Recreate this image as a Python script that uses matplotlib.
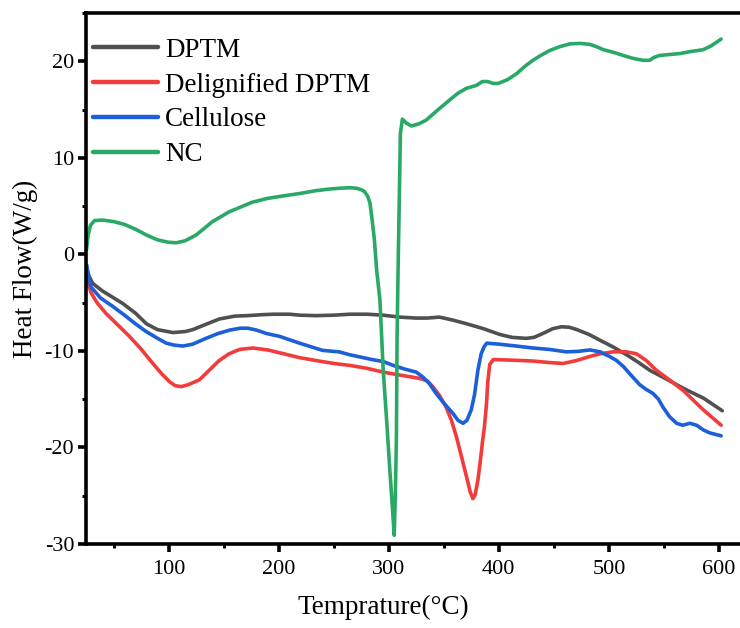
import matplotlib
matplotlib.use("Agg")
import matplotlib.pyplot as plt
from matplotlib.ticker import MultipleLocator

plt.rcParams['font.family'] = ['Liberation Serif', 'DejaVu Serif']
plt.rcParams['axes.unicode_minus'] = False

# DPTM
dptm_t = [25.5, 28, 31, 40, 50, 58.5, 70, 80, 90, 104, 115, 122, 135, 146, 160, 171, 185, 195,
          210, 219, 234, 250, 265, 280, 295, 310, 325, 335, 346, 358, 371, 386, 401, 412, 425,
          432, 440, 449, 457, 464, 471, 482, 492, 504, 516, 527, 537, 552, 568, 586, 603]
dptm_v = [-1.5, -2.3, -3.0, -3.8, -4.5, -5.1, -6.1, -7.2, -7.8, -8.1, -8.0, -7.8, -7.2, -6.7,
          -6.4, -6.35, -6.25, -6.2, -6.2, -6.3, -6.35, -6.3, -6.2, -6.2, -6.3, -6.5, -6.6, -6.6,
          -6.5, -6.8, -7.2, -7.7, -8.3, -8.6, -8.7, -8.6, -8.2, -7.7, -7.5, -7.55, -7.8, -8.3,
          -8.9, -9.6, -10.4, -11.2, -12.0, -12.9, -13.9, -14.9, -16.2]

# Delignified DPTM
del_t = [25.7, 27.5, 29.7, 35, 43, 52, 64.5, 75, 85.7, 94, 101, 106, 111.5, 118, 128, 137, 146,
         155, 164.5, 176.6, 190, 201, 219, 234, 250, 264.5, 280, 295, 310, 328, 335, 340, 346,
         352, 357, 361.5, 366, 370.6, 374, 376.5, 378.5, 381, 383, 385, 387, 388.8, 390, 391.8,
         395, 410, 431, 445, 458.5, 470.6, 482, 492, 504, 516, 525, 534, 543, 555, 567.5, 585.7,
         602]
del_v = [-1.8, -3.2, -4.0, -5.0, -6.1, -7.1, -8.5, -9.8, -11.3, -12.4, -13.2, -13.6, -13.7,
         -13.5, -13.0, -12.0, -11.0, -10.3, -9.85, -9.7, -9.9, -10.2, -10.7, -11.0, -11.3, -11.5,
         -11.8, -12.2, -12.5, -12.85, -13.1, -13.7, -14.6, -15.8, -17.2, -18.9, -20.9, -23.0,
         -24.6, -25.3, -24.9, -23.4, -21.6, -19.6, -17.8, -15.5, -13.2, -11.4, -10.9, -10.95,
         -11.05, -11.2, -11.3, -11.0, -10.6, -10.3, -10.1, -10.1, -10.3, -11.0, -12.0, -13.0,
         -14.1, -16.1, -17.7]

# Cellulose
cel_t = [25.7, 27.5, 29.7, 38, 49.4, 60, 70, 79.7, 90, 97.9, 105, 113, 122, 134, 145, 155.5,
         165, 172, 180, 189, 201, 219, 240, 255, 264.5, 285, 295, 304, 315, 325, 331, 337, 343,
         350, 358.5, 363, 367.5, 371, 375, 378, 381, 384, 386.5, 389, 400, 416, 431, 446, 461.5,
         472, 482.7, 492, 501, 507, 513, 520, 528, 534, 540, 545, 549, 555, 561.5, 567, 573.6,
         579.7, 586, 591.8, 602]
cel_v = [-1.1, -2.5, -3.4, -4.5, -5.4, -6.3, -7.2, -8.0, -8.7, -9.2, -9.4, -9.5, -9.3, -8.7,
         -8.2, -7.85, -7.65, -7.65, -7.85, -8.2, -8.5, -9.2, -9.95, -10.1, -10.4, -10.9, -11.1,
         -11.5, -11.9, -12.2, -12.7, -13.4, -14.4, -15.4, -16.5, -17.2, -17.5, -17.2, -16.1,
         -14.5, -12.0, -10.3, -9.6, -9.2, -9.3, -9.5, -9.7, -9.85, -10.1, -10.05, -9.9, -10.1,
         -10.6, -11.0, -11.6, -12.5, -13.5, -14.0, -14.4, -15.0, -15.8, -16.8, -17.5, -17.7,
         -17.5, -17.7, -18.2, -18.5, -18.8]

# NC
nc_t = [25.5, 27, 29, 32.7, 40, 50, 60, 70, 80, 90, 100, 107, 115, 125, 140, 155, 176, 190, 204,
        219, 234, 245, 255, 265, 270.6, 275, 278, 281, 283, 285, 287, 289, 292, 295, 298, 301,
        303.5, 305, 306, 307, 307.6, 308.5, 309.5, 310.6, 312.4, 316, 320.6, 327, 334, 345,
        355.5, 363, 370.6, 379.7, 385, 390, 395, 399.4, 408, 416, 424, 431, 438, 446, 455, 464.5,
        474, 482.7, 489, 495, 505, 513, 522, 531, 537, 541, 546, 555, 564.5, 573.6, 580, 585.7,
        593, 602]
nc_v = [0.5, 2.0, 3.0, 3.5, 3.55, 3.4, 3.1, 2.6, 2.0, 1.5, 1.25, 1.2, 1.4, 2.0, 3.4, 4.4, 5.4,
        5.8, 6.05, 6.3, 6.6, 6.75, 6.85, 6.9, 6.85, 6.7, 6.5, 6.0, 5.3, 3.5, 1.5, -1.6, -4.7,
        -12, -17, -22.3, -26.5, -29.1, -25, -18.9, -8.5, -1.6, 5, 12.5, 14.0, 13.6, 13.3, 13.5,
        13.9, 15.0, 16.0, 16.7, 17.2, 17.5, 17.9, 17.9, 17.7, 17.7, 18.1, 18.7, 19.5, 20.1, 20.6,
        21.1, 21.5, 21.8, 21.85, 21.75, 21.5, 21.2, 20.9, 20.6, 20.3, 20.1, 20.1, 20.4, 20.6,
        20.7, 20.8, 21.0, 21.1, 21.2, 21.6, 22.3]

series = [
    ("DPTM", dptm_t, dptm_v, "#505050"),
    ("Delignified DPTM", del_t, del_v, "#f23c3c"),
    ("Cellulose", cel_t, cel_v, "#1b5fd9"),
    ("NC", nc_t, nc_v, "#2aa866"),
]

fig = plt.figure(figsize=(7.4, 6.28), dpi=100)
ax = fig.add_axes([0.1162, 0.1338, 0.9, 0.8455])

for name, t, v, c in series:
    ax.plot(t, v, color=c, lw=2.6, label=name, solid_joinstyle='round', solid_capstyle='round')

ax.set_xlim(25, 630)
ax.set_ylim(-30, 25)
ax.xaxis.set_minor_locator(MultipleLocator(50))
ax.yaxis.set_minor_locator(MultipleLocator(5))
ax.set_xticks([100, 200, 300, 400, 500, 600])
ax.set_yticks([-30, -20, -10, 0, 10, 20])

for s in ax.spines.values():
    s.set_linewidth(2.6)
ax.tick_params(which='major', direction='out', length=5.5, width=2.6, labelsize=16)
ax.tick_params(which='minor', direction='out', length=3, width=2.2)
ax.tick_params(axis='y', which='major', pad=3)
ax.tick_params(axis='x', which='major', pad=6)

ax.set_xlabel("Temprature(\u00b0C)", fontsize=19.5)
ax.set_ylabel("Heat Flow(W/g)", fontsize=19.5)
ax.xaxis.set_label_coords(0.447, -0.095)
ax.yaxis.set_label_coords(-0.072, 0.518)

leg = ax.legend(loc='upper left', bbox_to_anchor=(0.0106, 0.953), frameon=False,
                fontsize=19.5, handlelength=2.4, handletextpad=0.25, labelspacing=0.36,
                borderpad=0, borderaxespad=0)
for line in leg.get_lines():
    line.set_linewidth(3.2)

fig.savefig("out.png", dpi=100)
